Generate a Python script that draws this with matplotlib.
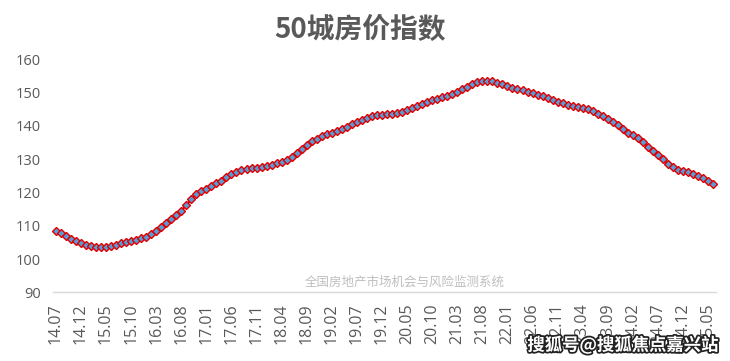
import matplotlib
matplotlib.use("Agg")
import matplotlib.pyplot as plt
import matplotlib.patheffects as pe

plt.rcParams['font.family'] = ['Open Sans', 'Noto Sans CJK SC', 'DejaVu Sans']

title = "50城房价指数"
source_note = "全国房地产市场机会与风险监测系统"
watermark = "搜狐号@搜狐焦点嘉兴站"

start_year, start_month = 2014, 7
values = [
    108.5, 107.8, 106.9, 106.0, 105.3, 104.7, 104.3, 104.0, 103.7, 103.6,
    103.7, 103.9, 104.3, 104.7, 105.1, 105.5, 105.8, 106.2, 106.7, 107.4,
    108.4, 109.5, 110.7, 112.0, 113.2, 114.5, 116.2, 118.0, 119.5, 120.3,
    121.1, 121.8, 122.7, 123.5, 124.5, 125.4, 126.1, 126.6, 126.9, 127.3,
    127.4, 127.7, 128.0, 128.3, 128.8, 129.2, 129.8, 130.6, 131.7, 133.0,
    134.4, 135.4, 136.2, 136.9, 137.5, 138.0, 138.5, 139.1, 139.8, 140.6,
    141.2, 141.8, 142.4, 142.9, 143.2, 143.3, 143.5, 143.6, 143.8, 144.2,
    144.7, 145.3, 145.9, 146.6, 147.2, 147.8, 148.2, 148.6, 149.1, 149.6,
    150.3, 151.1, 151.8, 152.5, 153.2, 153.6, 153.6, 153.4, 153.0, 152.5,
    152.0, 151.5, 151.1, 150.7, 150.3, 149.8, 149.4, 148.9, 148.4, 147.9,
    147.3, 146.8, 146.2, 146.0, 145.7, 145.4, 145.0, 144.4, 143.6, 143.0,
    142.2, 141.3, 140.2, 139.0, 138.0, 137.3, 136.3, 135.1, 133.8, 132.6,
    131.3, 129.9, 128.5, 127.5, 126.8, 126.4, 126.1, 125.5, 124.9, 124.2,
    123.5, 122.5,
]

months = []
y, m = start_year, start_month
for _ in values:
    months.append(f"{y % 100:02d}.{m:02d}")
    m += 1
    if m > 12:
        m = 1
        y += 1

label_step = 5
y_ticks = [90, 100, 110, 120, 130, 140, 150, 160]

fig = plt.figure(figsize=(7.30, 3.61), dpi=100)
ax = fig.add_axes([53.3 / 730, 1 - 292.3 / 361, (715.7 - 53.3) / 730, (292.3 - 59.3) / 361])

x = list(range(len(values)))
ax.plot(x, values, color='#E00000', linewidth=1.6, marker='D', markersize=4.2,
        markerfacecolor='#5B9BD5', markeredgecolor='#E00000', markeredgewidth=1.0,
        zorder=3, clip_on=False)

ax.set_xlim(-0.5, len(values) - 0.5)
ax.set_ylim(90, 160)
ax.set_yticks(y_ticks)
ax.set_yticklabels([str(v) for v in y_ticks], fontsize=10.5, color='#595959')
tick_pos = list(range(0, len(values), label_step))
ax.set_xticks(tick_pos)
ax.set_xticklabels([months[i] for i in tick_pos], rotation=90, fontsize=11.5,
                   color='#595959')
ax.tick_params(axis='both', length=0)
ax.tick_params(axis='y', pad=9)
ax.tick_params(axis='x', pad=8)

for s in ['top', 'right', 'left']:
    ax.spines[s].set_visible(False)
ax.spines['bottom'].set_color('#D9D9D9')
ax.spines['bottom'].set_linewidth(1.0)

fig.text(360 / 730, 1 - 30 / 361, title, ha='center', va='center',
         fontsize=20, fontweight='bold', color='#595959',
         family=['Noto Sans CJK SC', 'DejaVu Sans'])

fig.text(405 / 730, 1 - 282 / 361, source_note, ha='center', va='center',
         fontsize=9, color='#BFBFBF', family=['Noto Sans CJK SC'])

fig.text(623 / 730, 1 - 345 / 361, watermark, ha='center', va='center',
         fontsize=12.5, fontweight='bold', color='white',
         family=['Noto Sans CJK SC', 'DejaVu Sans'],
         path_effects=[pe.withStroke(linewidth=2.5, foreground='#222222')])

fig.savefig('out.png', dpi=100)
